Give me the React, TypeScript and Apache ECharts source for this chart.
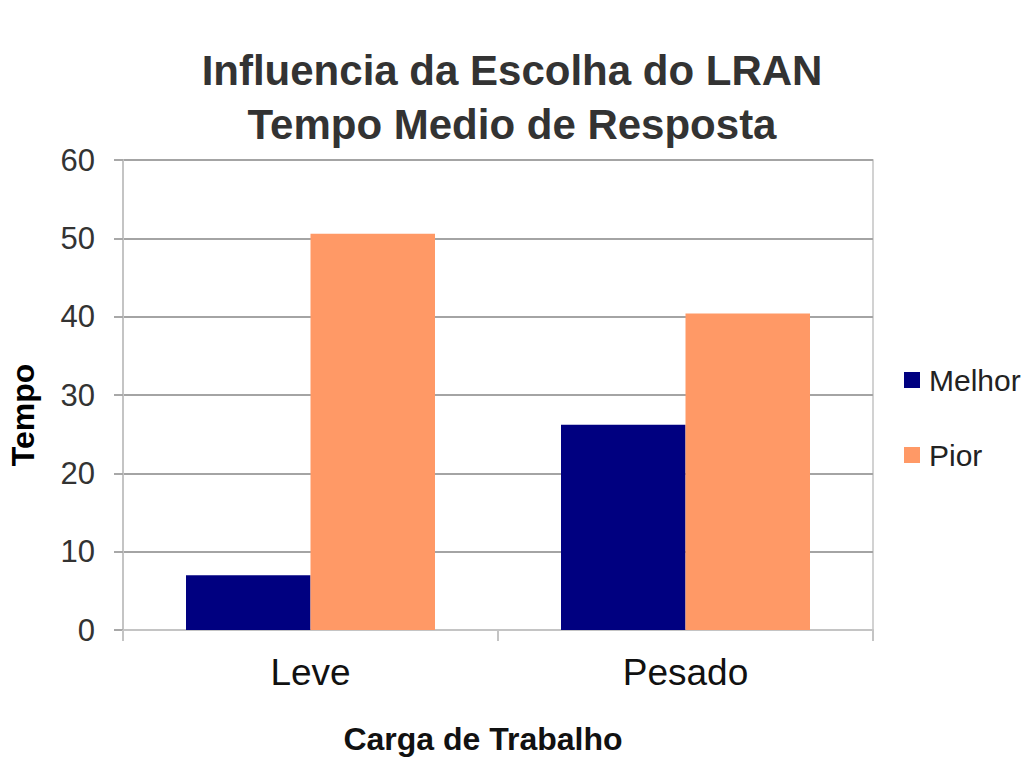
import React, { useEffect, useRef } from "react";
import * as echarts from "echarts";

const categories = ["Leve", "Pesado"];
const melhor = [7, 26.2];
const pior = [50.6, 40.4];
const seriesNames = ["Melhor", "Pior"];
const titleLines = ["Influencia da Escolha do LRAN", "Tempo Medio de Resposta"];
const xName = "Carga de Trabalho";
const yName = "Tempo";

const FONT = "'Liberation Sans', Arial, sans-serif";

export default function App() {
  const ref = useRef<HTMLDivElement>(null);
  useEffect(() => {
    if (!ref.current) return;
    const chart = echarts.init(ref.current, null, { renderer: "svg" });
    chart.setOption({
      animation: false,
      backgroundColor: "#ffffff",
      textStyle: { fontFamily: FONT },
      title: {
        text: titleLines.join("\n"),
        left: "center",
        top: 38,
        textStyle: {
          fontFamily: FONT,
          fontSize: 42,
          fontWeight: "bold",
          color: "#333333",
          lineHeight: 54,
        },
      },
      legend: {
        orient: "vertical",
        left: 899,
        top: 358,
        icon: "rect",
        itemWidth: 16,
        itemHeight: 16,
        itemGap: 41,
        data: seriesNames,
        textStyle: {
          fontFamily: FONT,
          fontSize: 30,
          color: "#222222",
          lineHeight: 34,
          padding: [0, 0, 0, 4],
        },
      },
      grid: {
        left: 123,
        right: 151,
        top: 160,
        bottom: 138,
        show: true,
        borderColor: "#c4c4c4",
        borderWidth: 1.5,
      },
      xAxis: {
        type: "category",
        data: categories,
        axisLine: { show: true, lineStyle: { color: "#c4c4c4", width: 2 } },
        axisTick: { show: true, length: 11, lineStyle: { color: "#c4c4c4", width: 2 } },
        axisLabel: { fontFamily: FONT, fontSize: 37, color: "#111111", margin: 24 },
      },
      yAxis: {
        type: "value",
        min: 0,
        max: 60,
        interval: 10,
        axisLine: { show: true, lineStyle: { color: "#c4c4c4", width: 2 } },
        axisTick: { show: true, length: 9, lineStyle: { color: "#a8a8a8", width: 2 } },
        splitLine: { show: true, lineStyle: { color: "#a4a4a4", width: 2 } },
        axisLabel: { fontFamily: FONT, fontSize: 31, color: "#333333", margin: 28 },
      },
      series: [
        {
          name: seriesNames[0],
          type: "bar",
          data: melhor,
          barGap: "0%",
          barCategoryGap: "33.6%",
          itemStyle: { color: "#000080" },
        },
        {
          name: seriesNames[1],
          type: "bar",
          data: pior,
          itemStyle: { color: "#ff9966" },
        },
      ],
      graphic: [
        {
          type: "text",
          x: 483,
          y: 739,
          style: {
            text: xName,
            fontFamily: FONT,
            fontSize: 32,
            fontWeight: "bold",
            fill: "#111111",
            textAlign: "center",
            textVerticalAlign: "middle",
          },
        },
        {
          type: "text",
          x: 23,
          y: 415,
          rotation: Math.PI / 2,
          style: {
            text: yName,
            fontFamily: FONT,
            fontSize: 32,
            fontWeight: "bold",
            fill: "#000000",
            textAlign: "center",
            textVerticalAlign: "middle",
          },
        },
      ],
    });
    return () => chart.dispose();
  }, []);
  return (
    <div
      ref={ref}
      style={{ position: "fixed", left: 0, top: 0, width: 1024, height: 768 }}
    />
  );
}
